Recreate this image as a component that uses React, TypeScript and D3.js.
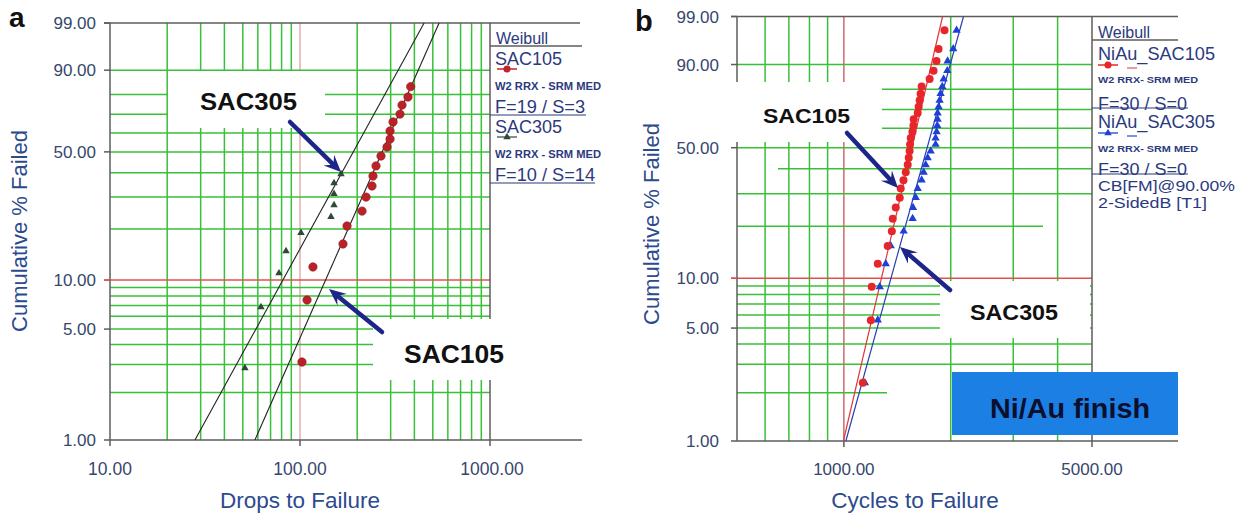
import React from 'react';
import * as d3 from 'd3';

// ---------- data ----------
const gridF = [2, 3, 4, 5, 6, 7, 8, 9, 10, 20, 30, 40, 50, 60, 70, 80, 90];
const yTickF = [1, 5, 10, 50, 90, 99];
const fitF = [1, 99];

// panel a (drops to failure)
const aXTicks = [10, 100, 1000];
const aGridX = [20, 30, 40, 50, 60, 70, 80, 90, 100, 200, 300, 400, 500, 600, 700, 800, 900];
const a105T = [382.4, 370.1, 344.3, 336.1, 308.8, 297.8, 297.8, 287.1, 266.9, 251.2, 242.2, 239.3, 222.6, 212.1, 176.8, 168.4, 117.0, 108.9, 102.4];
const a105F = [83.6, 78.8, 74.8, 70.1, 65.9, 61.0, 56.7, 52.5, 47.9, 43.1, 38.5, 34.3, 30.0, 25.2, 20.8, 16.4, 12.0, 7.56, 3.11];
const a305T = [164.4, 151.0, 151.0, 151.0, 145.6, 101.2, 84.4, 77.5, 62.3, 51.3];
const a305F = [39.4, 35.5, 31.2, 27.2, 23.4, 19.0, 14.9, 11.0, 6.85, 2.85];
const a105Fit = [57.9, 539.5];
const a305Fit = [28.0, 450];

// panel b (cycles to failure)
const bXTicks = [1000, 5000];
const bGridX = [600, 700, 800, 900, 1000, 2000, 3000, 4000];
const b105T = [1131, 1191, 1198, 1246, 1329, 1365, 1373, 1400, 1437, 1446, 1472, 1494, 1513, 1523, 1532, 1536, 1543, 1560, 1570, 1573, 1614, 1624, 1635, 1645, 1656, 1744, 1789, 1824, 1848, 1921];
const b305T = [1146, 1246, 1262, 1312, 1355, 1474, 1562, 1566, 1594, 1614, 1656, 1678, 1700, 1722, 1756, 1813, 1813, 1825, 1833, 1837, 1837, 1849, 1861, 1873, 1893, 1910, 1956, 1960, 2033, 2077];
const bF = [2.3, 5.59, 8.88, 12.17, 15.46, 18.75, 22.04, 25.33, 28.62, 31.91, 35.2, 38.49, 41.78, 45.07, 48.36, 51.64, 54.93, 58.22, 61.51, 64.8, 68.09, 71.38, 74.67, 77.96, 81.25, 84.54, 87.83, 91.12, 94.41, 97.7];
const b105Fit = [997, 1897];
const b305Fit = [1013, 2173];

// ---------- styles ----------
const FONT = "'Liberation Sans', Arial, Helvetica, sans-serif";
const GREEN = '#38c038';
const REDLINE = '#e0524c';
const FRAME = '#5c5c5c';
const NAVY = '#2b3a7e';
const TICKTXT = '#36476d';
const ARROW = '#1d2688';

const wt = (F: number) => Math.log(-Math.log(1 - F / 100));
const fmt = (v: number) => v.toFixed(2);

function Arrow({ x1, y1, x2, y2 }: { x1: number; y1: number; x2: number; y2: number }) {
  const ang = (Math.atan2(y2 - y1, x2 - x1) * 180) / Math.PI;
  const len = Math.hypot(x2 - x1, y2 - y1);
  const L = 17, W = 15;
  return (
    <g transform={`translate(${x2},${y2}) rotate(${ang})`}>
      <line x1={-len} y1={0} x2={-L * 0.6} y2={0} stroke={ARROW} strokeWidth={4.5} strokeLinecap="round" />
      <path d={`M0,0 L${-L},${-W / 2} L${-L * 0.62},0 L${-L},${W / 2} Z`} fill={ARROW} />
    </g>
  );
}

const SG = 'spacingAndGlyphs';

export default function App() {
  const ax = d3.scaleLog().domain([10, 1000]).range([110, 490]);
  const ayL = d3.scaleLinear().domain([wt(1), wt(99)]).range([440, 23]);
  const ay = (F: number) => ayL(wt(F));
  const bx = d3.scaleLog().domain([500, 5000]).range([737, 1092]);
  const byL = d3.scaleLinear().domain([wt(1), wt(99)]).range([441, 16.5]);
  const by = (F: number) => byL(wt(F));

  const aLine = d3.line<[number, number]>().x((d) => ax(d[0])).y((d) => ay(d[1]));
  const bLine = d3.line<[number, number]>().x((d) => bx(d[0])).y((d) => by(d[1]));
  const triA = d3.symbol().type(d3.symbolTriangle).size(24)() as string;
  const triB = d3.symbol().type(d3.symbolTriangle).size(30)() as string;

  const [aL, aR, aT, aB] = [110, 490, 23, 440];
  const [bL, bR, bT, bB] = [737, 1092, 16.5, 441];

  const bHExtent = (F: number): [number, number] => {
    if (F === 2) return [bL, 887];
    if (F === 40) return [778, bR];
    if (F === 20) return [bL, 1043];
    return [bL, bR];
  };

  return (
    <svg width={1249} height={516} style={{ position: 'absolute', left: 0, top: 0, background: '#fff' }} fontFamily={FONT}>
      <rect x={0} y={0} width={1249} height={516} fill="#fff" />

      {/* ================= PANEL A ================= */}
      <g>
        {aGridX.map((v) => (
          <line key={'av' + v} x1={ax(v)} x2={ax(v)} y1={aT} y2={aB}
            stroke={v === 100 ? '#d99a9a' : GREEN} strokeWidth={v === 100 ? 1.2 : 1.5} />
        ))}
        {gridF.map((F) => (
          <line key={'ah' + F} x1={F === 10 ? 104 : aL} x2={aR} y1={ay(F)} y2={ay(F)}
            stroke={F === 10 ? REDLINE : GREEN} strokeWidth={1.5} />
        ))}
        <line x1={aL} x2={aL} y1={aT} y2={aB} stroke={FRAME} strokeWidth={1.5} />
        <line x1={aR} x2={aR} y1={aT} y2={aB} stroke={FRAME} strokeWidth={1.5} />
        <line x1={104} x2={580} y1={aT} y2={aT} stroke={FRAME} strokeWidth={1.5} />
        <line x1={aL} x2={582} y1={aB} y2={aB} stroke={FRAME} strokeWidth={1.5} />
        {yTickF.map((F) => (
          <line key={'at' + F} x1={104} x2={aL} y1={ay(F)} y2={ay(F)} stroke={F === 10 ? REDLINE : FRAME} strokeWidth={1.5} />
        ))}
        {aXTicks.map((v) => (
          <line key={'axt' + v} x1={ax(v)} x2={ax(v)} y1={aB} y2={aB + 6} stroke={FRAME} strokeWidth={1.5} />
        ))}
        <rect x={168} y={71} width={157} height={57} fill="#fff" />
        <rect x={373} y={319} width={140} height={61} fill="#fff" />

        <path d={aLine(a305Fit.map((t, i) => [t, fitF[i]]) as [number, number][]) || ''} stroke="#222" strokeWidth={1.1} fill="none" />
        <path d={aLine(a105Fit.map((t, i) => [t, fitF[i]]) as [number, number][]) || ''} stroke="#222" strokeWidth={1.1} fill="none" />

        {a105T.map((t, i) => (
          <circle key={'a105' + i} cx={ax(t)} cy={ay(a105F[i])} r={4.2} fill="#bd2128" stroke="#8e1a1f" strokeWidth={0.6} />
        ))}
        {a305T.map((t, i) => (
          <path key={'a305' + i} d={triA} transform={`translate(${ax(t)},${ay(a305F[i])})`} fill="#2c4a36" />
        ))}

        {yTickF.map((F) => (
          <text key={'ayl' + F} x={96} y={ay(F)} dy="0.36em" textAnchor="end" fontSize={17} fill={TICKTXT}>{fmt(F)}</text>
        ))}
        {aXTicks.map((v) => (
          <text key={'axl' + v} x={ax(v) + (v === 1000 ? 2 : 0)} y={475} textAnchor="middle" fontSize={17.5} fill={TICKTXT}>{fmt(v)}</text>
        ))}
        <text transform="translate(27,231) rotate(-90)" textAnchor="middle" fontSize={22} fill="#2d4a8e">Cumulative % Failed</text>
        <text x={300} y={508} textAnchor="middle" fontSize={22.5} fill="#2d4a8e">Drops to Failure</text>
        <text x={9} y={27} fontSize={28} fontWeight="bold" fill="#111">a</text>

        <text x={200} y={110} fontSize={24} fontWeight="bold" fill="#111" textLength={97} lengthAdjust={SG}>SAC305</text>
        <Arrow x1={290} y1={122} x2={341} y2={172} />
        <text x={404} y={363} fontSize={25} fontWeight="bold" fill="#111" textLength={100} lengthAdjust={SG}>SAC105</text>
        <Arrow x1={382} y1={332} x2={329} y2={289} />

        {/* legend */}
        <line x1={aR} x2={582} y1={46} y2={46} stroke={FRAME} strokeWidth={1.3} />
        <text x={496} y={44} fontSize={16} fill={NAVY}>Weibull</text>
        <text x={495} y={65} fontSize={18} fill={NAVY}>SAC105</text>
        <line x1={497} x2={517} y1={69} y2={69} stroke="#c0232b" strokeWidth={1.5} />
        <circle cx={507} cy={69} r={3.5} fill="#c0232b" />
        <text x={495} y={90} fontSize={10.5} fontWeight="bold" fill={NAVY} textLength={106} lengthAdjust={SG}>W2 RRX - SRM MED</text>
        <text x={495} y={113} fontSize={18} fill={NAVY} textLength={90} lengthAdjust={SG}>F=19 / S=3</text>
        <line x1={aR} x2={586} y1={115} y2={115} stroke={NAVY} strokeWidth={1.2} />
        <text x={495} y={133} fontSize={18} fill={NAVY}>SAC305</text>
        <line x1={497} x2={517} y1={137} y2={137} stroke="#2c4a36" strokeWidth={1.2} />
        <path d={triA} transform="translate(507,137)" fill="#2c4a36" />
        <text x={495} y={158} fontSize={10.5} fontWeight="bold" fill={NAVY} textLength={106} lengthAdjust={SG}>W2 RRX - SRM MED</text>
        <text x={495} y={181} fontSize={18} fill={NAVY} textLength={100} lengthAdjust={SG}>F=10 / S=14</text>
        <line x1={aR} x2={595} y1={183} y2={183} stroke={NAVY} strokeWidth={1.2} />
      </g>

      {/* ================= PANEL B ================= */}
      <g>
        {bGridX.map((v) => (
          <line key={'bv' + v} x1={bx(v)} x2={bx(v)} y1={bT} y2={bB}
            stroke={v === 1000 ? '#cf6a6a' : GREEN} strokeWidth={1.5} />
        ))}
        {gridF.map((F) => {
          const [x1, x2] = bHExtent(F);
          return (
            <line key={'bh' + F} x1={F === 10 ? 731 : x1} x2={x2} y1={by(F)} y2={by(F)}
              stroke={F === 10 ? REDLINE : GREEN} strokeWidth={1.5} />
          );
        })}
        <line x1={bL} x2={bL} y1={bT} y2={bB} stroke={FRAME} strokeWidth={1.5} />
        <line x1={bR} x2={bR} y1={bT} y2={bB} stroke={FRAME} strokeWidth={1.5} />
        <line x1={731} x2={1178} y1={bT} y2={bT} stroke={FRAME} strokeWidth={1.5} />
        <line x1={bL} x2={1178} y1={bB} y2={bB} stroke={FRAME} strokeWidth={1.5} />
        {yTickF.map((F) => (
          <line key={'bt' + F} x1={731} x2={bL} y1={by(F)} y2={by(F)} stroke={F === 10 ? REDLINE : FRAME} strokeWidth={1.5} />
        ))}
        {bXTicks.map((v) => (
          <line key={'bxt' + v} x1={bx(v)} x2={bx(v)} y1={bB} y2={bB + 6} stroke={FRAME} strokeWidth={1.5} />
        ))}
        <rect x={700} y={82} width={182} height={60} fill="#fff" />
        <rect x={940} y={281} width={150} height={57} fill="#fff" />

        <path d={bLine(b105Fit.map((t, i) => [t, fitF[i]]) as [number, number][]) || ''} stroke="#e0373a" strokeWidth={1.2} fill="none" />
        <path d={bLine(b305Fit.map((t, i) => [t, fitF[i]]) as [number, number][]) || ''} stroke="#2a3fb0" strokeWidth={1.2} fill="none" />

        {b305T.map((t, i) => (
          <path key={'b305' + i} d={triB} transform={`translate(${bx(t)},${by(bF[i])})`} fill="#1f3fd6" />
        ))}
        {b105T.map((t, i) => (
          <circle key={'b105' + i} cx={bx(t)} cy={by(bF[i])} r={4} fill="#e6262a" />
        ))}

        {yTickF.map((F) => (
          <text key={'byl' + F} x={719} y={by(F)} dy="0.36em" textAnchor="end" fontSize={17} fill={TICKTXT}>{fmt(F)}</text>
        ))}
        {bXTicks.map((v) => (
          <text key={'bxl' + v} x={bx(v)} y={475} textAnchor="middle" fontSize={17} fill={TICKTXT}>{fmt(v)}</text>
        ))}
        <text transform="translate(659,224) rotate(-90)" textAnchor="middle" fontSize={22} fill="#2d4a8e">Cumulative % Failed</text>
        <text x={915} y={508} textAnchor="middle" fontSize={22.5} fill="#2d4a8e">Cycles to Failure</text>
        <text x={635} y={31} fontSize={29} fontWeight="bold" fill="#111">b</text>

        <text x={763} y={123} fontSize={21} fontWeight="bold" fill="#111" textLength={87} lengthAdjust={SG}>SAC105</text>
        <Arrow x1={847} y1={133} x2={898} y2={188} />
        <text x={970} y={320} fontSize={22} fontWeight="bold" fill="#111" textLength={88} lengthAdjust={SG}>SAC305</text>
        <Arrow x1={950} y1={290} x2={900} y2={247} />

        <rect x={952} y={372} width={226} height={63} fill="#1c7fe4" />
        <text x={990} y={418} fontSize={27} fontWeight="bold" fill="#0c0f2e" textLength={160} lengthAdjust={SG}>Ni/Au finish</text>

        {/* legend */}
        <line x1={bR} x2={1178} y1={40} y2={40} stroke={FRAME} strokeWidth={1.3} />
        <text x={1098} y={38} fontSize={16} fill={NAVY}>Weibull</text>
        <text x={1098} y={60} fontSize={18} fill={NAVY} textLength={117} lengthAdjust={SG}>NiAu_SAC105</text>
        <line x1={1098} x2={1118} y1={65} y2={65} stroke="#e6262a" strokeWidth={1.5} />
        <circle cx={1108} cy={65} r={3.5} fill="#e6262a" />
        <line x1={1127} x2={1137} y1={68} y2={68} stroke="#e07a7a" strokeWidth={1.5} />
        <text x={1098} y={83} fontSize={9.5} fontWeight="bold" fill={NAVY} textLength={100} lengthAdjust={SG}>W2 RRX- SRM MED</text>
        <text x={1098} y={110} fontSize={18} fill={NAVY} textLength={89} lengthAdjust={SG}>F=30 / S=0</text>
        <line x1={bR} x2={1188} y1={108} y2={108} stroke={NAVY} strokeWidth={1.2} />
        <text x={1098} y={128} fontSize={18} fill={NAVY} textLength={117} lengthAdjust={SG}>NiAu_SAC305</text>
        <line x1={1098} x2={1118} y1={133} y2={133} stroke="#1f3fd6" strokeWidth={1.3} />
        <path d={triA} transform="translate(1108,133)" fill="#1f3fd6" />
        <line x1={1127} x2={1137} y1={136} y2={136} stroke="#5a6ae0" strokeWidth={1.5} />
        <text x={1098} y={152} fontSize={9.5} fontWeight="bold" fill={NAVY} textLength={100} lengthAdjust={SG}>W2 RRX- SRM MED</text>
        <text x={1098} y={175} fontSize={16} fill={NAVY} textLength={89} lengthAdjust={SG}>F=30 / S=0</text>
        <line x1={bR} x2={1188} y1={174} y2={174} stroke={NAVY} strokeWidth={1.2} />
        <text x={1098} y={191} fontSize={15.5} fill={NAVY} textLength={137} lengthAdjust={SG}>CB[FM]@90.00%</text>
        <text x={1098} y={208} fontSize={15.5} fill={NAVY} textLength={109} lengthAdjust={SG}>2-SidedB [T1]</text>
      </g>
    </svg>
  );
}
